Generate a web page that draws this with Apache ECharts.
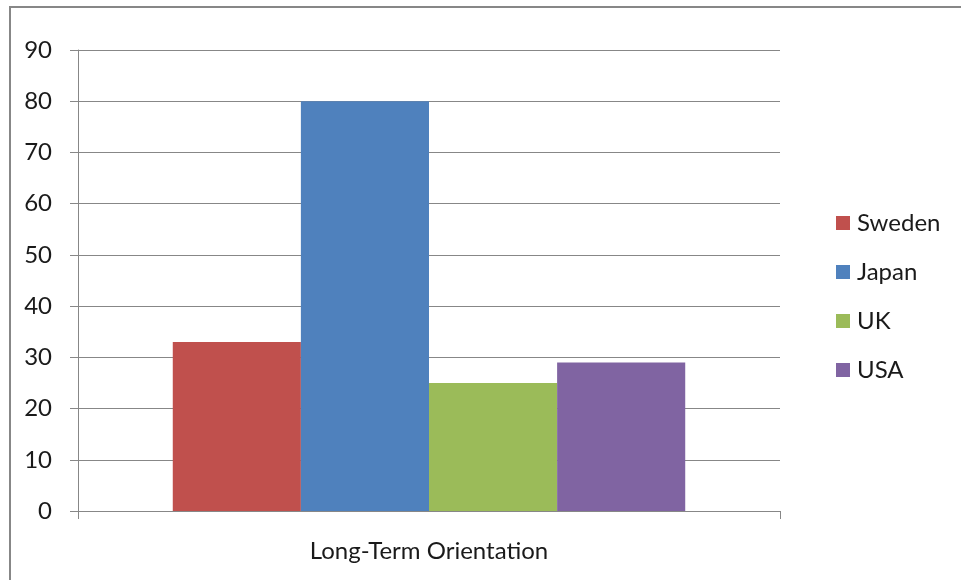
<!DOCTYPE html>
<html>
<head>
<meta charset="utf-8">
<script src="https://cdn.jsdelivr.net/npm/echarts@6/dist/echarts.min.js"></script>
<style>
  html, body { margin: 0; padding: 0; background: #fff; }
  #chart { width: 961px; height: 580px; }
</style>
</head>
<body>
<div id="chart"></div>
<script>
// Hofstede long-term orientation scores by country
const categories = ['Long-Term Orientation'];
const countries = ['Sweden', 'Japan', 'UK', 'USA'];
const scores = [33, 80, 25, 29];
const colors = ['#C0504D', '#4F81BD', '#9BBB59', '#8064A2'];
const yTicks = { min: 0, max: 90, interval: 10 };

const FONT = 'Lato, "Open Sans", sans-serif';
const chart = echarts.init(document.getElementById('chart'));

chart.setOption({
  animation: false,
  textStyle: { fontFamily: FONT },
  graphic: [{
    type: 'rect',
    shape: { x: 10, y: 7, width: 1000, height: 700 },
    style: { fill: 'none', stroke: '#878787', lineWidth: 2 },
    silent: true
  }],
  grid: { left: 78, right: 181, top: 50, bottom: 69 },
  legend: {
    orient: 'vertical',
    left: 831,
    top: 206,
    itemWidth: 14,
    itemHeight: 14,
    itemGap: 25,
    icon: 'rect',
    textStyle: { fontFamily: FONT, fontSize: 24, color: '#1a1a1a', padding: [0, 0, 0, 2] },
    data: countries
  },
  xAxis: {
    type: 'category',
    data: categories,
    axisLine: { lineStyle: { color: '#878787', width: 1 } },
    axisTick: { show: true, length: 8, lineStyle: { color: '#878787' } },
    axisLabel: { margin: 28, fontSize: 24, color: '#1a1a1a', fontFamily: FONT }
  },
  yAxis: {
    type: 'value',
    min: yTicks.min,
    max: yTicks.max,
    interval: yTicks.interval,
    axisLine: { show: true, lineStyle: { color: '#878787', width: 1 } },
    axisTick: { show: true, length: 8, lineStyle: { color: '#878787' } },
    axisLabel: { margin: 26, fontSize: 24, color: '#1a1a1a', fontFamily: FONT },
    splitLine: { show: true, lineStyle: { color: '#878787', width: 1 } }
  },
  series: countries.map((name, i) => ({
    name: name,
    type: 'bar',
    data: [scores[i]],
    itemStyle: { color: colors[i] },
    barGap: '0%',
    barCategoryGap: '27%'
  }))
});
</script>
</body>
</html>
